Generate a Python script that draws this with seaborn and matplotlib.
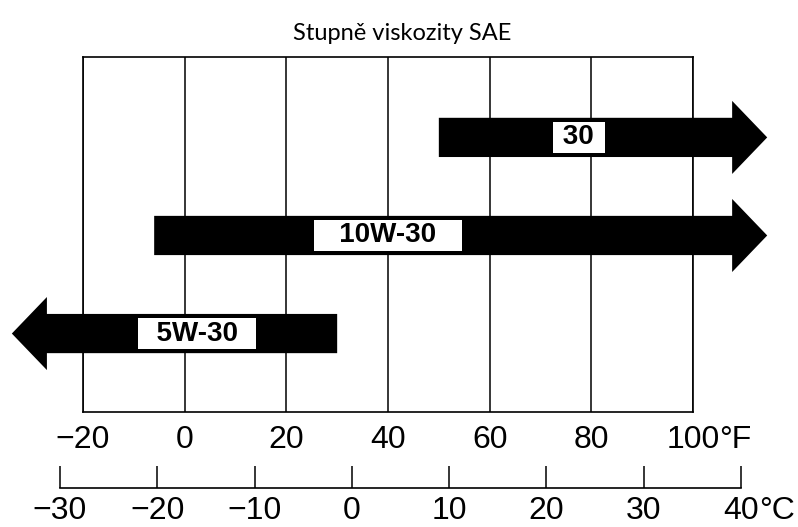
import matplotlib.pyplot as plt
import seaborn as sns
from matplotlib.patches import FancyArrow

# SAE grades, temperature range in degrees F (tail -> tip of the arrow)
grades = ["30", "10W-30", "5W-30"]
tail_f = [50, -6, 30]
tip_f = [114.6, 114.6, -34]
label_f = [77.5, 40, 2.5]

f_ticks = [-20, 0, 20, 40, 60, 80, 100]
f_labels = ["−20", "0", "20", "40", "60", "80", "100"]
c_ticks = [-30, -20, -10, 0, 10, 20, 30, 40]
c_labels = ["−30", "−20", "−10", "0", "10", "20", "30", "40"]

sns.set_theme(style="white")
plt.rcParams['font.family'] = ['Liberation Sans', 'DejaVu Sans']

fig = plt.figure(figsize=(7.98, 5.27), dpi=100)

# main grid (Fahrenheit)
ax = fig.add_axes([83 / 798, 1 - 412 / 527, 610 / 798, 355 / 527])
ax.set_xlim(-20, 100)
ax.set_ylim(2.80, -0.82)
ax.set_xticks(f_ticks, f_labels)
ax.set_yticks([])
ax.tick_params(axis='x', length=0, pad=9, labelsize=23, labelcolor='black')
ax.grid(axis='x', color='black', lw=1.1)
ax.set_axisbelow(True)
for s in ax.spines.values():
    s.set_visible(True)
    s.set_color('black')
    s.set_linewidth(1.2)

pads = {"30": " ", "10W-30": "   ", "5W-30": "  "}
for i, (g, t0, t1, lx) in enumerate(zip(grades, tail_f, tip_f, label_f)):
    arrow = FancyArrow(t0, i, t1 - t0, 0, width=0.40, head_width=0.745,
                       head_length=6.9, length_includes_head=True,
                       color='black', lw=0, zorder=3, clip_on=False)
    ax.add_patch(arrow)
    ax.text(lx, i, pads[g] + g + pads[g], ha='center', va='center', fontsize=20,
            fontweight='bold', color='black', zorder=4,
            bbox=dict(boxstyle='square,pad=0.1', fc='white', ec='none'))

ax.annotate("°F", xy=(100, 0), xycoords=('data', 'axes fraction'),
            xytext=(19, -9), textcoords='offset points',
            ha='left', va='top', fontsize=23, color='black')

# Celsius scale below
ax2 = fig.add_axes([60 / 798, 1 - 488 / 527, 681 / 798, 0.05])
ax2.set_xlim(-30, 40)
ax2.set_xticks(c_ticks, c_labels)
ax2.set_yticks([])
ax2.patch.set_visible(False)
for name, s in ax2.spines.items():
    s.set_visible(name == 'bottom')
    s.set_color('black')
    s.set_linewidth(1.2)
ax2.tick_params(axis='x', bottom=True, direction='in', length=16, width=1.1,
                color='black', pad=6, labelsize=23, labelcolor='black')
ax2.annotate("°C", xy=(40, 0), xycoords=('data', 'axes fraction'),
             xytext=(13, -6), textcoords='offset points',
             ha='left', va='top', fontsize=23, color='black')

fig.text(402 / 798, 1 - 33 / 527, "Stupně viskozity SAE", ha='center',
         va='center', fontsize=17, color='black', family=['Lato', 'DejaVu Sans'])

fig.savefig("out.png", dpi=100)
